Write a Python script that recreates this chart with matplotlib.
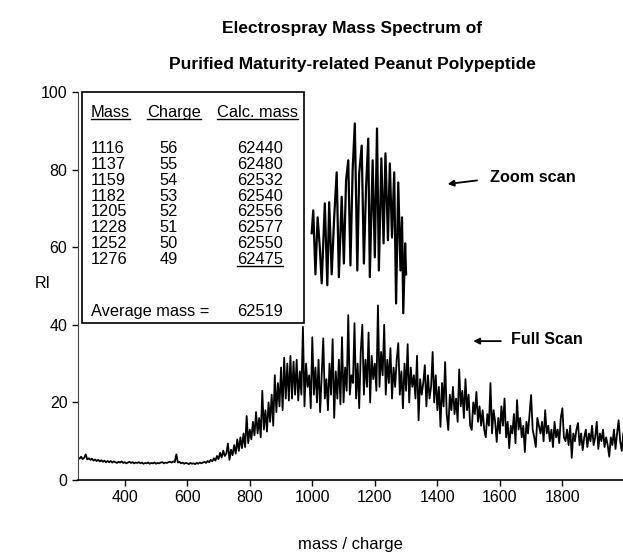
import matplotlib
matplotlib.use("Agg")
import matplotlib.pyplot as plt
from matplotlib.patches import Rectangle
from matplotlib.lines import Line2D
import numpy as np

plt.rcParams['font.family'] = ['Liberation Sans', 'DejaVu Sans']

# full scan, sampled every 5 m/z from 250 to 1995
full_mz = np.arange(250, 2000, 5)
full_ri = [
    5.8, 5.5, 6.0, 5.4, 5.7, 6.6, 5.3, 5.6, 5.2, 5.5, 5.0, 5.3, 4.9, 5.2, 4.8, 5.1, 4.7, 5.0, 4.6, 4.9,
    4.6, 4.9, 4.5, 4.8, 4.6, 4.4, 4.7, 4.5, 4.8, 4.4, 4.6, 4.3, 4.5, 4.7, 4.4, 4.6, 4.3, 4.5, 4.4, 4.6,
    4.3, 4.5, 4.2, 4.4, 4.3, 4.5, 4.2, 4.4, 4.3, 4.5, 4.2, 4.4, 4.3, 4.5, 4.6, 4.3, 4.5, 4.4, 4.6, 4.7,
    4.5, 4.8, 4.6, 6.6, 4.5, 4.7, 4.3, 4.5, 4.2, 4.4, 4.3, 4.1, 4.4, 4.2, 4.3, 4.1, 4.4, 4.2, 4.5, 4.3,
    4.5, 4.7, 4.4, 4.9, 4.6, 5.2, 4.8, 5.6, 5.0, 6.2, 5.4, 7.0, 5.8, 7.6, 6.2, 6.8, 9.4, 5.2, 7.8, 6.4,
    9.0, 6.8, 10.5, 7.5, 11.0, 8.2, 12.0, 8.5, 16.5, 9.5, 13.0, 10.5, 15.0, 11.5, 17.5, 12.0, 16.0, 11.0, 23.0, 13.0,
    18.0, 12.5, 20.0, 15.0, 22.0, 14.0, 27.0, 17.5, 25.0, 19.0, 29.0, 18.0, 31.5, 21.0, 30.0, 20.5, 32.0, 21.0, 30.5, 22.0,
    31.0, 20.5, 28.0, 22.0, 39.5, 19.0, 30.0, 24.0, 27.0, 18.5, 36.8, 22.0, 29.0, 20.0, 31.0, 17.5, 27.0, 36.5, 21.0, 26.0,
    18.0, 30.0, 22.0, 36.3, 16.0, 28.0, 21.0, 31.0, 19.5, 36.8, 20.0, 29.0, 23.0, 42.5, 22.0, 27.0, 25.0, 40.4, 21.0, 30.0,
    18.5, 33.0, 40.0, 22.0, 31.0, 24.0, 38.0, 20.0, 32.0, 26.0, 30.0, 23.0, 45.0, 24.0, 33.0, 27.0, 40.0, 22.0, 31.0, 25.0,
    34.0, 21.0, 29.0, 24.0, 31.0, 35.3, 22.0, 28.0, 18.5, 30.0, 23.0, 35.0, 20.0, 29.0, 24.0, 27.0, 21.0, 32.0, 15.4, 26.0,
    22.0, 25.0, 29.6, 19.0, 27.0, 21.0, 24.0, 33.0, 20.0, 27.0, 18.0, 24.0, 13.7, 25.0, 19.0, 30.4, 17.0, 12.9, 22.0, 18.0,
    24.0, 17.0, 21.0, 15.0, 28.5, 19.0, 23.0, 16.0, 26.0, 18.0, 22.0, 14.0, 12.9, 20.0, 17.0, 22.7, 15.0, 19.0, 14.0, 18.0,
    13.0, 11.0, 17.0, 14.0, 25.0, 12.0, 18.0, 15.0, 9.8, 16.0, 12.0, 19.0, 14.0, 21.0, 11.0, 15.0, 8.2, 14.0, 12.0, 17.0,
    9.5, 20.6, 13.0, 16.0, 11.0, 14.0, 7.2, 15.0, 12.0, 17.0, 21.9, 13.0, 11.0, 8.5, 16.0, 14.0, 12.0, 15.0, 10.0, 18.0,
    12.0, 14.0, 10.0, 13.0, 8.5, 15.0, 11.0, 13.0, 9.5, 16.0, 18.5, 11.0, 10.0, 13.0, 9.0, 14.0, 5.7, 12.0, 10.0, 13.0,
    14.7, 9.0, 12.0, 7.7, 11.0, 13.0, 8.5, 12.0, 10.0, 14.0, 9.0, 11.0, 15.0, 8.0, 12.0, 10.0, 13.0, 8.5, 11.0, 9.0,
    6.0, 11.0, 9.0, 13.0, 8.0, 12.0, 15.4, 10.0, 7.5, 12.0,
]

# zoom scan over the 1000-1300 region
zoom_mz = [998, 1003, 1010, 1017, 1024, 1030, 1040, 1048, 1054, 1062, 1070, 1078, 1085, 1094,
           1101, 1108, 1115, 1122, 1129, 1136, 1144, 1150, 1158, 1165, 1172, 1179, 1184, 1193,
           1200, 1207, 1213, 1221, 1228, 1234, 1242, 1248, 1255, 1262, 1268, 1275, 1282, 1287,
           1291, 1297, 1300]
zoom_ri = [63.6, 69.5, 53.0, 67.7, 60.0, 50.7, 71.3, 50.2, 71.6, 53.0, 67.7, 79.3, 52.3, 73.0,
           55.8, 77.2, 82.4, 55.3, 79.8, 91.9, 54.0, 79.0, 86.2, 55.8, 75.4, 88.0, 52.3, 82.4,
           57.4, 90.6, 54.0, 82.9, 61.0, 84.2, 61.8, 81.6, 62.5, 79.3, 45.5, 76.7, 54.0, 67.7,
           43.0, 61.0, 53.0]

# inset table
table_head = ["Mass", "Charge", "Calc. mass"]
masses = [1116, 1137, 1159, 1182, 1205, 1228, 1252, 1276]
charges = [56, 55, 54, 53, 52, 51, 50, 49]
calc_mass = [62440, 62480, 62532, 62540, 62556, 62577, 62550, 62475]
avg_mass = 62519

fig = plt.figure(figsize=(6.23, 5.52), dpi=100)
ax = fig.add_axes([0.125, 0.1304, 0.875, 0.7029])

ax.plot(full_mz, full_ri, color='black', lw=1.3)
ax.plot(zoom_mz, zoom_ri, color='black', lw=1.6)

ax.set_xlim(250, 1994)
ax.set_ylim(0, 100)
ax.set_xticks([400, 600, 800, 1000, 1200, 1400, 1600, 1800])
ax.set_yticks([0, 20, 40, 60, 80, 100])
ax.tick_params(direction='out', length=4, width=1, labelsize=11.5, colors='black')
ax.spines['top'].set_visible(False)
ax.spines['right'].set_visible(False)
ax.spines['left'].set_linestyle((0, (3, 1)))
ax.spines['left'].set_color('#444444')
ax.spines['bottom'].set_linewidth(1.2)

fig.text(0.565, 1 - 29 / 552, "Electrospray Mass Spectrum of", ha='center', va='center',
         fontsize=12.5, fontweight='bold')
fig.text(0.565, 1 - 65 / 552, "Purified Maturity-related Peanut Polypeptide", ha='center', va='center',
         fontsize=12.5, fontweight='bold')
fig.text(0.068, 0.487, "RI", ha='center', va='center', fontsize=11.5)
fig.text(0.562, 1 - 545 / 552, "mass / charge", ha='center', va='center', fontsize=12)

# table box
ax.add_patch(Rectangle((263, 40.4), 710, 59.6, fill=False, edgecolor='black', lw=1.2,
                       zorder=3, clip_on=False))
fs = 11.8
heads = []
for txt, xx in zip(table_head, [291, 471, 695]):
    heads.append(ax.text(xx, 94.7, txt, fontsize=fs, va='center', ha='left'))
row_y = [85.5, 81.4, 77.3, 73.2, 69.1, 65.0, 60.9, 56.8]
last = None
for m, c, cm, yy in zip(masses, charges, calc_mass, row_y):
    ax.text(291, yy, str(m), fontsize=fs, va='center', ha='left')
    ax.text(540, yy, str(c), fontsize=fs, va='center', ha='center')
    last = ax.text(759, yy, str(cm), fontsize=fs, va='center', ha='left')
ax.text(291, 43.4, "Average mass =", fontsize=fs, va='center', ha='left')
ax.text(759, 43.4, str(avg_mass), fontsize=fs, va='center', ha='left')

# underline headers and last calculated mass
fig.canvas.draw()
inv = ax.transData.inverted()
for t in heads + [last]:
    bb = t.get_window_extent()
    (x0, y0), (x1, _) = inv.transform([(bb.x0, bb.y0), (bb.x1, bb.y1)])
    ax.add_line(Line2D([x0, x1], [y0 + 0.4, y0 + 0.4], color='black', lw=1.0))

# annotations
ax.annotate("", xy=(1424, 76.2), xytext=(1536, 77.3),
            arrowprops=dict(arrowstyle='-|>', color='black', lw=1.3, mutation_scale=9))
ax.text(1568, 78.0, "Zoom scan", fontsize=11.7, fontweight='bold', va='center', ha='left')
ax.annotate("", xy=(1506, 35.8), xytext=(1612, 35.8),
            arrowprops=dict(arrowstyle='-|>', color='black', lw=1.3, mutation_scale=9))
ax.text(1636, 36.3, "Full Scan", fontsize=11.5, fontweight='bold', va='center', ha='left')

fig.savefig("out.png", dpi=100)
